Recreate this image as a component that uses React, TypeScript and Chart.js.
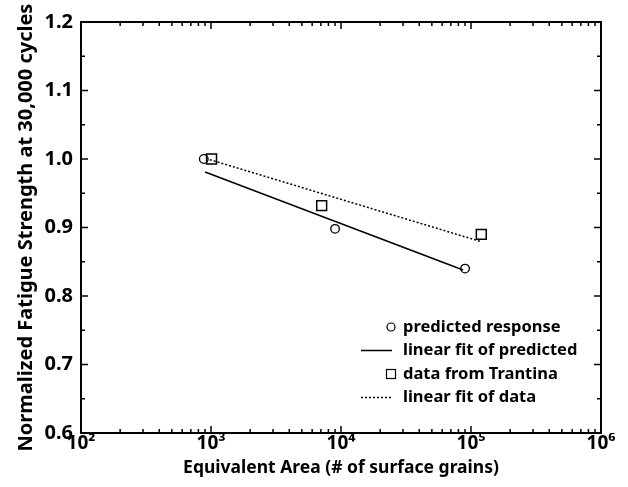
import React, { useEffect, useRef } from 'react';
import { Chart, registerables } from 'chart.js';

Chart.register(...registerables);

// ---- data ----
const predictedX = [880, 9000, 90000];
const predictedY = [1.0, 0.898, 0.84];
const trantinaX = [1010, 7100, 120000];
const trantinaY = [1.0, 0.932, 0.89];
const fitPredictedX = [900, 87000];
const fitPredictedY = [0.981, 0.838];
const fitDataX = [980, 121000];
const fitDataY = [0.999, 0.879];

const xTickValues = [1e2, 1e3, 1e4, 1e5, 1e6];
const xTickLabels = ['10²', '10³', '10⁴', '10⁵', '10⁶'];
const legendLabels = [
  'predicted response',
  'linear fit of predicted',
  'data from Trantina',
  'linear fit of data',
];
const xTitle = 'Equivalent Area (# of surface grains)';
const yTitle = 'Normalized Fatigue Strength at 30,000 cycles';

const FONT = "'Noto Sans', 'DejaVu Sans', sans-serif";

const pts = (xs: number[], ys: number[]) => xs.map((x, i) => ({ x, y: ys[i] }));

const framePlugin = {
  id: 'frameTicksLegend',
  afterDraw(chart: any) {
    const { ctx, chartArea } = chart;
    const { left, right, top, bottom } = chartArea;
    const xs = chart.scales.x;
    const ys = chart.scales.y;
    ctx.save();
    ctx.strokeStyle = '#000';
    ctx.lineWidth = 2;
    ctx.strokeRect(left, top, right - left, bottom - top);

    ctx.lineWidth = 1.5;
    // x ticks (log decades with minor ticks), inward on bottom and top
    for (let d = 2; d <= 6; d++) {
      for (let m = 1; m <= 9; m++) {
        const v = m * Math.pow(10, d);
        if (v > 1e6) break;
        const px = xs.getPixelForValue(v);
        const len = m === 1 ? 7 : 4;
        ctx.beginPath();
        ctx.moveTo(px, bottom);
        ctx.lineTo(px, bottom - len);
        ctx.moveTo(px, top);
        ctx.lineTo(px, top + len);
        ctx.stroke();
      }
    }
    // y ticks, inward on left and right
    ys.ticks.forEach((t: any) => {
      const py = ys.getPixelForValue(t.value);
      const major = Math.round(t.value * 100) % 10 === 0;
      const len = major ? 7 : 4;
      ctx.beginPath();
      ctx.moveTo(left, py);
      ctx.lineTo(left + len, py);
      ctx.moveTo(right, py);
      ctx.lineTo(right - len, py);
      ctx.stroke();
    });

    // legend
    const rowH = 23.5;
    const y0 = bottom - 106;
    const markX = right - 210;
    const textX = right - 198;
    ctx.font = `bold 16.5px ${FONT}`;
    ctx.fillStyle = '#000';
    ctx.textBaseline = 'middle';
    ctx.textAlign = 'left';
    legendLabels.forEach((label, i) => {
      const yy = y0 + i * rowH;
      ctx.lineWidth = 1.2;
      ctx.setLineDash([]);
      if (i === 0) {
        ctx.beginPath();
        ctx.arc(markX, yy, 4, 0, Math.PI * 2);
        ctx.stroke();
      } else if (i === 2) {
        ctx.strokeRect(markX - 4.5, yy - 4.5, 9, 9);
      } else {
        ctx.lineWidth = 1.5;
        if (i === 3) ctx.setLineDash([2, 2]);
        ctx.beginPath();
        ctx.moveTo(markX - 30, yy);
        ctx.lineTo(markX + 1, yy);
        ctx.stroke();
        ctx.setLineDash([]);
      }
      ctx.fillText(label, textX, yy);
    });
    ctx.restore();
  },
};

export default function App() {
  const ref = useRef<HTMLCanvasElement | null>(null);
  useEffect(() => {
    if (!ref.current) return;
    const chart = new Chart(ref.current, {
      type: 'scatter',
      data: {
        datasets: [
          {
            label: legendLabels[1],
            data: pts(fitPredictedX, fitPredictedY),
            showLine: true,
            borderColor: '#000',
            borderWidth: 1.5,
            pointRadius: 0,
          },
          {
            label: legendLabels[3],
            data: pts(fitDataX, fitDataY),
            showLine: true,
            borderColor: '#000',
            borderWidth: 1.5,
            borderDash: [2, 2],
            pointRadius: 0,
          },
          {
            label: legendLabels[0],
            data: pts(predictedX, predictedY),
            pointStyle: 'circle',
            pointRadius: 4.3,
            borderColor: '#000',
            borderWidth: 1.3,
            backgroundColor: 'rgba(0,0,0,0)',
          },
          {
            label: legendLabels[2],
            data: pts(trantinaX, trantinaY),
            pointStyle: 'rect',
            pointRadius: 7,
            borderColor: '#000',
            borderWidth: 1.5,
            backgroundColor: 'rgba(0,0,0,0)',
          },
        ],
      },
      options: {
        responsive: false,
        animation: false,
        layout: { padding: { top: 22, right: 27, left: 0, bottom: 0 } },
        plugins: { legend: { display: false }, tooltip: { enabled: false } },
        scales: {
          x: {
            type: 'logarithmic',
            min: 100,
            max: 1e6,
            afterBuildTicks: (s: any) => {
              s.ticks = xTickValues.map((v) => ({ value: v, major: true }));
            },
            afterFit: (s: any) => {
              s.height = 54;
            },
            grid: { display: false, drawTicks: false },
            border: { display: false },
            ticks: {
              autoSkip: false,
              maxRotation: 0,
              padding: -1,
              color: '#000',
              font: { family: FONT, size: 19, weight: 'bold' },
              callback: (v: any) => {
                const i = xTickValues.indexOf(Number(v));
                return i >= 0 ? xTickLabels[i] : '';
              },
            },
            title: {
              display: true,
              text: xTitle,
              color: '#000',
              font: { family: FONT, size: 17.5, weight: 'bold' },
              padding: { top: 0, bottom: 8.5 },
            },
          },
          y: {
            min: 0.6,
            max: 1.2,
            afterFit: (s: any) => {
              s.width = 81;
            },
            grid: { display: false, drawTicks: false },
            border: { display: false },
            ticks: {
              stepSize: 0.05,
              autoSkip: false,
              padding: 8,
              color: '#000',
              font: { family: FONT, size: 20, weight: 'bold' },
              callback: (v: any) => {
                const n = Math.round(Number(v) * 100);
                return n % 10 === 0 ? (n / 100).toFixed(1) : '';
              },
            },
            title: {
              display: true,
              text: yTitle,
              color: '#000',
              font: { family: FONT, size: 20, weight: 'bold' },
              padding: { top: 14, bottom: 14 },
            },
          },
        },
      },
      plugins: [framePlugin],
    } as any);
    return () => chart.destroy();
  }, []);
  return (
    <div style={{ position: 'absolute', left: 0, top: 0, width: 628, height: 487, background: '#fff' }}>
      <canvas ref={ref} width={628} height={487} style={{ width: 628, height: 487, display: 'block' }} />
    </div>
  );
}
